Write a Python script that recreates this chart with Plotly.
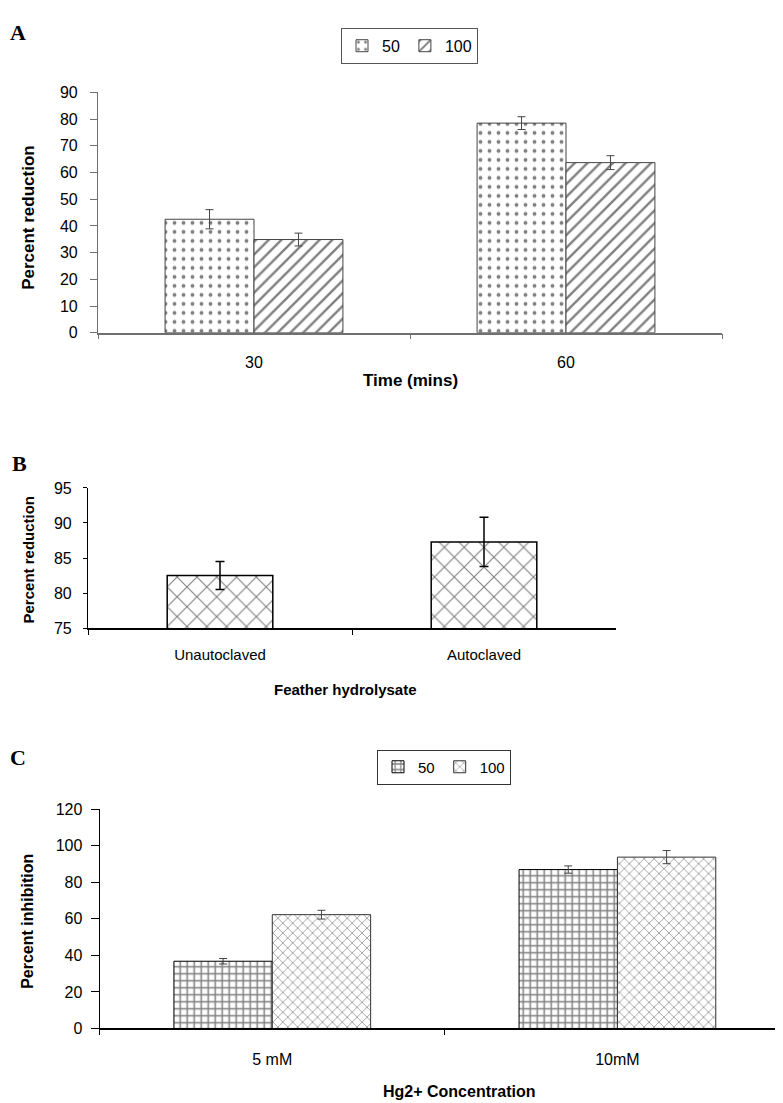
import plotly.graph_objects as go

# ---------------- data ----------------
time_labels = ["30", "60"]
a_50 = [42.5, 78.5]
a_50_err = [3.6, 2.4]
a_100 = [34.9, 63.7]
a_100_err = [2.4, 2.6]

b_labels = ["Unautoclaved", "Autoclaved"]
b_vals = [82.5, 87.3]
b_err = [2.0, 3.5]

c_labels = ["5 mM", "10mM"]
c_50 = [36.8, 87.0]
c_50_err = [1.5, 2.0]
c_100 = [62.3, 93.8]
c_100_err = [2.4, 3.6]

series_names = ["50", "100"]

W, H = 783, 1103
FONT = "Liberation Sans, Arial, sans-serif"
SERIF = "Liberation Serif, Times New Roman, serif"


def fx(x):
    return x / W


def fy(y):
    return 1 - y / H


fig = go.Figure()

# ---------- Panel A ----------
fig.add_trace(go.Bar(
    x=time_labels, y=a_50, name=series_names[0], xaxis="x", yaxis="y",
    marker=dict(color="white", line=dict(color="#444", width=1),
                pattern=dict(shape=".", size=9, solidity=0.14, fgcolor="black", bgcolor="white")),
    error_y=dict(type="data", array=a_50_err, color="#444", thickness=1, width=4),
    legend="legend",
))
fig.add_trace(go.Bar(
    x=time_labels, y=a_100, name=series_names[1], xaxis="x", yaxis="y",
    marker=dict(color="white", line=dict(color="#444", width=1),
                pattern=dict(shape="/", size=9, solidity=0.26, fgcolor="black", bgcolor="white")),
    error_y=dict(type="data", array=a_100_err, color="#444", thickness=1, width=4),
    legend="legend",
))

# ---------- Panel B ----------
fig.add_trace(go.Bar(
    x=b_labels, y=b_vals, name="B", xaxis="x2", yaxis="y2", width=0.4, showlegend=False,
    marker=dict(color="white", line=dict(color="black", width=1.5),
                pattern=dict(shape="x", size=14, solidity=0.15, fgcolor="black", bgcolor="white")),
    error_y=dict(type="data", array=b_err, color="black", thickness=1.5, width=4.5),
))

# ---------- Panel C ----------
fig.add_trace(go.Bar(
    x=c_labels, y=c_50, name=series_names[0], xaxis="x3", yaxis="y3",
    marker=dict(color="white", line=dict(color="black", width=1),
                pattern=dict(shape="+", size=7, solidity=0.38, fgcolor="black", bgcolor="white")),
    error_y=dict(type="data", array=c_50_err, color="#444", thickness=1, width=4),
    legend="legend2",
))
fig.add_trace(go.Bar(
    x=c_labels, y=c_100, name=series_names[1], xaxis="x3", yaxis="y3",
    marker=dict(color="white", line=dict(color="#333", width=1),
                pattern=dict(shape="x", size=7, solidity=0.2, fgcolor="#111", bgcolor="white")),
    error_y=dict(type="data", array=c_100_err, color="#444", thickness=1, width=4),
    legend="legend2",
))


def xax(domain, color, standoff, fsize):
    return dict(domain=[fx(domain[0]), fx(domain[1])], type="category",
                showline=True, linecolor=color, linewidth=1.5,
                ticks="outside", tickson="boundaries", ticklen=5, tickcolor=color,
                tickfont=dict(family=FONT, size=fsize, color="black"),
                ticklabelstandoff=standoff, showgrid=False, zeroline=False,
                fixedrange=True)


def yax(domain, rng, dtick, color, ticklen, standoff, fsize, anchor):
    return dict(domain=[fy(domain[1]), fy(domain[0])], range=rng, dtick=dtick,
                showline=True, linecolor=color, linewidth=1.2,
                ticks="outside", ticklen=ticklen, tickcolor=color,
                tickfont=dict(family=FONT, size=fsize, color="black"),
                ticklabelstandoff=standoff, showgrid=False, zeroline=False,
                anchor=anchor, fixedrange=True)


fig.update_layout(
    width=W, height=H,
    margin=dict(l=0, r=0, t=0, b=0),
    paper_bgcolor="white", plot_bgcolor="white",
    barmode="group", bargap=0.43, bargroupgap=0,
    font=dict(family=FONT, color="black"),
    xaxis=dict(**xax([90, 714], "#707070", 14, 16), anchor="y"),
    yaxis=yax([77.6, 321.7], [0, 90], 10, "#707070", 7, 9, 16, "x"),
    xaxis2=dict(**xax([80, 608], "black", 12, 15), anchor="y2"),
    yaxis2=yax([479.3, 621.7], [75, 95], 5, "black", 4, 8, 16, "x2"),
    xaxis3=dict(**xax([91.7, 782], "black", 16, 16), anchor="y3"),
    yaxis3=yax([805.7, 1028.3], [0, 120], 20, "black", 8, 5, 16, "x3"),
    legend=dict(orientation="h", x=fx(401.5), y=fy(12), xanchor="center", yanchor="top",
                bordercolor="#555", borderwidth=1, bgcolor="white",
                font=dict(family=FONT, size=16), itemwidth=30, traceorder="normal"),
    legend2=dict(orientation="h", x=fx(436), y=fy(745), xanchor="center", yanchor="top",
                 bordercolor="#333", borderwidth=1, bgcolor="white",
                 font=dict(family=FONT, size=15), itemwidth=30, traceorder="normal"),
)

annotations = [
    ("A", 10, 17, SERIF, 22, 0),
    ("B", 11, 455, SERIF, 22, 0),
    ("C", 10, 753, SERIF, 22, 0),
    ("<b>Percent reduction</b>", 21, 205, FONT, 17, -90),
    ("<b>Time (mins)</b>", 402, 370, FONT, 17, 0),
    ("<b>Percent reduction</b>", 20, 552, FONT, 15, -90),
    ("<b>Feather hydrolysate</b>", 337, 684, FONT, 15, 0),
    ("<b>Percent inhibition</b>", 20, 920, FONT, 16, -90),
    ("<b>Hg2+ Concentration</b>", 451, 1092, FONT, 16, 0),
]
for text, x, y, fam, size, ang in annotations:
    if fam == SERIF:
        text = "<b>" + text + "</b>"
    fig.add_annotation(text=text, x=fx(x), y=fy(y), xref="paper", yref="paper",
                       xanchor="center", yanchor="middle", showarrow=False,
                       textangle=ang, font=dict(family=fam, size=size, color="black"))

fig.write_html("out.html")
